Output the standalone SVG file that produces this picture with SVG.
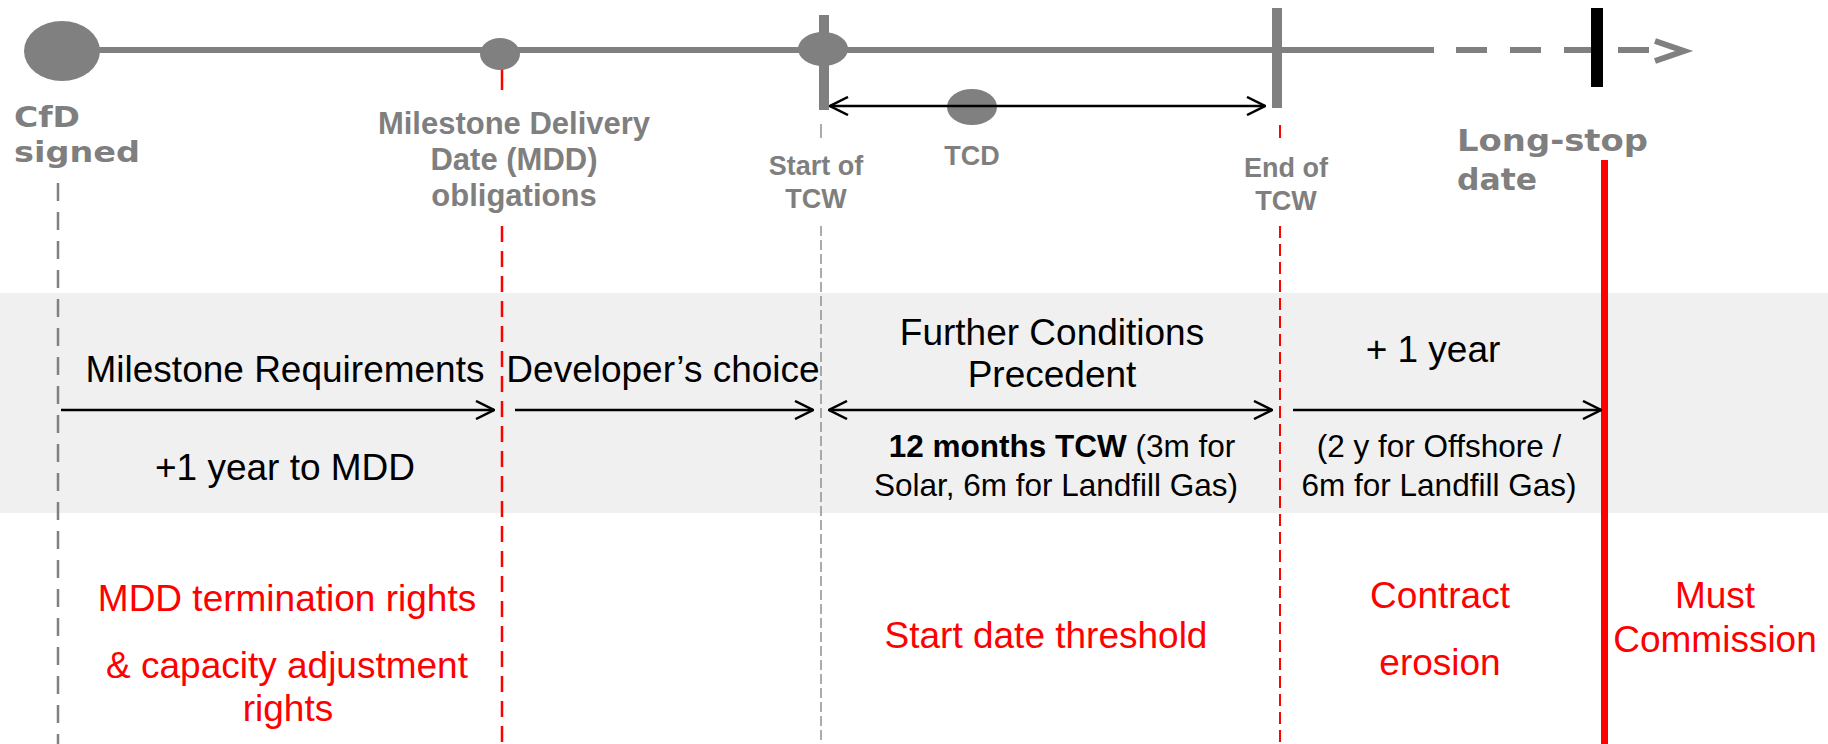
<svg xmlns="http://www.w3.org/2000/svg" width="1828" height="744" viewBox="0 0 1828 744">
<style>
.lbl{font-family:"Liberation Sans",Arial,sans-serif;font-weight:bold;fill:#7f7f7f;text-anchor:middle}
.wide{font-family:"DejaVu Sans",Verdana,sans-serif;font-weight:bold;fill:#7f7f7f}
.t{font-family:"Liberation Sans",Arial,sans-serif;fill:#000;text-anchor:middle}
.r{font-family:"Liberation Sans",Arial,sans-serif;fill:#ff0000;text-anchor:middle;font-size:37px}
.tl{stroke:#808080;stroke-width:6;fill:none}
.ev{fill:#808080}
.arr{stroke:#000;stroke-width:2.5;fill:none}
</style>
<defs>
<marker id="ah" viewBox="0 0 20 20" refX="19" refY="10" markerWidth="20" markerHeight="20" markerUnits="userSpaceOnUse" orient="auto-start-reverse">
<path d="M1,1 L19,10 L1,19" fill="none" stroke="#000" stroke-width="2.5"/>
</marker>
</defs>
<rect id="band" x="0" y="293" width="1828" height="220" fill="#f0f0f0"/>

<g id="guides">
<line x1="58" y1="183" x2="58" y2="744" stroke="#808080" stroke-width="2.5" stroke-dasharray="18 11"/>
<line x1="502" y1="67" x2="502" y2="90" stroke="#ff0000" stroke-width="2.5"/>
<line x1="502" y1="226" x2="502" y2="744" stroke="#ff0000" stroke-width="2.5" stroke-dasharray="16 9"/>
<line x1="821" y1="124" x2="821" y2="138" stroke="#909090" stroke-width="1.5"/>
<line x1="821" y1="226" x2="821" y2="744" stroke="#909090" stroke-width="1.5" stroke-dasharray="10 4"/>
<line x1="1280" y1="125" x2="1280" y2="138" stroke="#ff0000" stroke-width="2"/>
<line x1="1280" y1="226" x2="1280" y2="744" stroke="#ff0000" stroke-width="2" stroke-dasharray="12 6"/>
<line x1="1604.5" y1="160" x2="1604.5" y2="744" stroke="#ff0000" stroke-width="7"/>
</g>

<g id="timeline">
<line class="tl" x1="62" y1="50" x2="1434" y2="50"/>
<line class="tl" x1="1456" y1="50" x2="1650" y2="50" stroke-dasharray="31 23"/>
<polyline class="tl" points="1655,41 1684,51 1655,61"/>
</g>

<g id="cfd-signed">
<ellipse class="ev" cx="62" cy="51" rx="38" ry="30"/>
<text class="wide" x="14" y="127" font-size="29" textLength="66" lengthAdjust="spacingAndGlyphs">CfD</text>
<text class="wide" x="14" y="162" font-size="29" textLength="126" lengthAdjust="spacingAndGlyphs">signed</text>
</g>

<g id="mdd">
<ellipse class="ev" cx="500" cy="54" rx="20" ry="16"/>
<text class="lbl" font-size="31"><tspan x="514" y="134">Milestone Delivery</tspan><tspan x="514" y="170">Date (MDD)</tspan><tspan x="514" y="206">obligations</tspan></text>
</g>

<g id="start-tcw">
<rect class="ev" x="819" y="15" width="10" height="95"/>
<ellipse class="ev" cx="823" cy="49" rx="25" ry="17"/>
<text class="lbl" font-size="27"><tspan x="816" y="175">Start of</tspan><tspan x="816" y="208">TCW</tspan></text>
</g>

<g id="tcd">
<ellipse class="ev" cx="972" cy="107" rx="25" ry="18"/>
<text class="lbl" font-size="27" x="972" y="165">TCD</text>
</g>

<g id="end-tcw">
<rect class="ev" x="1272" y="8" width="10" height="100"/>
<text class="lbl" font-size="27"><tspan x="1286" y="177">End of</tspan><tspan x="1286" y="210">TCW</tspan></text>
</g>

<g id="long-stop">
<rect x="1591" y="8" width="12" height="79" fill="#000"/>
<text class="wide" x="1457" y="151" font-size="30" textLength="191" lengthAdjust="spacingAndGlyphs">Long-stop</text>
<text class="wide" x="1457" y="190" font-size="30" textLength="80" lengthAdjust="spacingAndGlyphs">date</text>
</g>

<g id="connectors">
<line class="arr" x1="830" y1="106" x2="1265" y2="106" stroke-width="2" marker-start="url(#ah)" marker-end="url(#ah)"/>
<line class="arr" x1="61" y1="410" x2="494" y2="410" marker-end="url(#ah)"/>
<line class="arr" x1="515" y1="410" x2="813" y2="410" marker-end="url(#ah)"/>
<line class="arr" x1="829" y1="410" x2="1272" y2="410" marker-start="url(#ah)" marker-end="url(#ah)"/>
<line class="arr" x1="1293" y1="410" x2="1601" y2="410" marker-end="url(#ah)"/>
</g>

<g id="phase-milestone">
<text class="t" font-size="37" x="285" y="382">Milestone Requirements</text>
<text class="t" font-size="37" x="285" y="480">+1 year to MDD</text>
<text class="r"><tspan x="287" y="611">MDD termination rights</tspan><tspan x="287" y="678">&amp; capacity adjustment</tspan><tspan x="288" y="721">rights</tspan></text>
</g>

<g id="phase-developer">
<text class="t" font-size="37" x="663" y="382">Developer’s choice</text>
</g>

<g id="phase-fcp">
<text class="t" font-size="37"><tspan x="1052" y="345">Further Conditions</tspan><tspan x="1052" y="387">Precedent</tspan></text>
<text class="t" font-size="31.5"><tspan x="1062" y="457"><tspan font-weight="bold">12 months TCW</tspan> (3m for</tspan><tspan x="1056" y="496">Solar, 6m for Landfill Gas)</tspan></text>
<text class="r" x="1046" y="648">Start date threshold</text>
</g>

<g id="phase-erosion">
<text class="t" font-size="37" x="1433" y="362">+ 1 year</text>
<text class="t" font-size="31.5"><tspan x="1439" y="457">(2 y for Offshore /</tspan><tspan x="1439" y="496">6m for Landfill Gas)</tspan></text>
<text class="r"><tspan x="1440" y="608">Contract</tspan><tspan x="1440" y="675">erosion</tspan></text>
</g>

<g id="phase-commission">
<text class="r"><tspan x="1715" y="608">Must</tspan><tspan x="1715" y="652">Commission</tspan></text>
</g>
</svg>
